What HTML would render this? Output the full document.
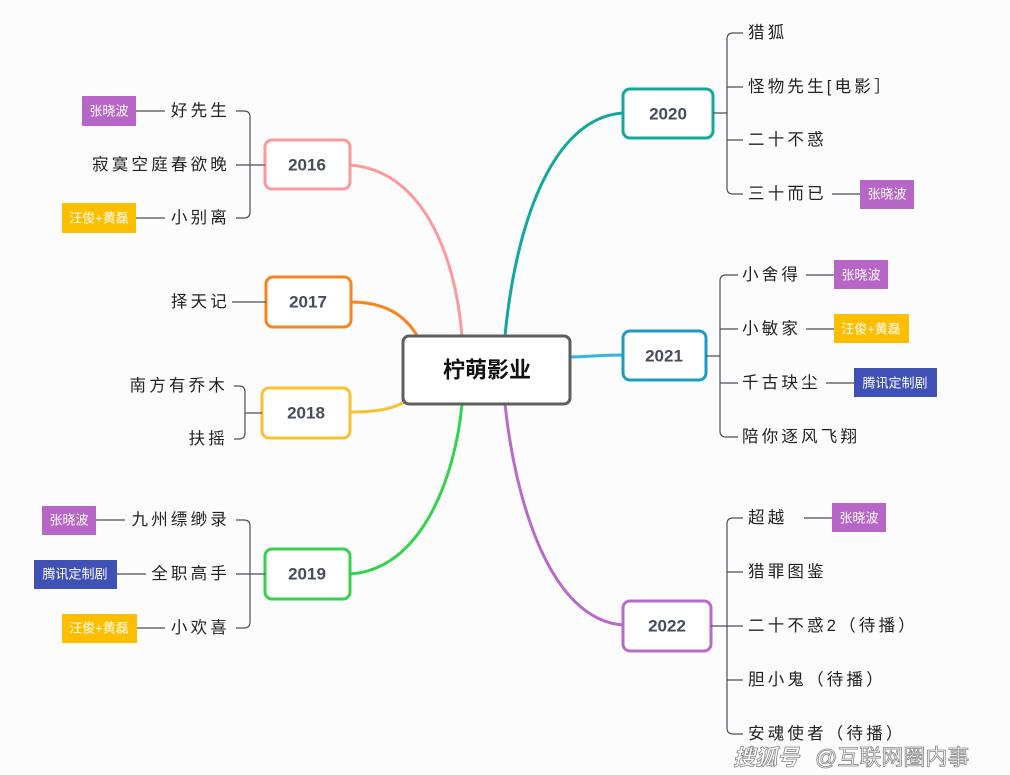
<!DOCTYPE html>
<html><head><meta charset="utf-8"><style>
body{margin:0;background:#fcfcfd;}
svg{display:block;}
text{font-family:"Liberation Sans","Noto Sans CJK SC",sans-serif;}
.t{font-size:16.5px;fill:#222;letter-spacing:3.2px;dominant-baseline:central;}
.y{font-size:17px;font-weight:bold;fill:#454d5a;text-anchor:middle;dominant-baseline:central;}
.g{font-size:13px;fill:#fff;text-anchor:middle;dominant-baseline:central;}
.l{stroke:#4a4f58;stroke-width:1.2;fill:none;}
</style></head><body>
<svg width="1010" height="775" viewBox="0 0 1010 775">
<g fill="none" stroke-width="3">
<path d="M350,165 C420,170 455,250 462,336" stroke="#fb9a9a"/>
<path d="M351,302 C385,302 405,315 418,337" stroke="#f7841c"/>
<path d="M350,412 C380,412 395,408 406,401" stroke="#fbc02d"/>
<path d="M350,574 C420,570 455,480 462,404" stroke="#34d34c"/>
<path d="M623,113 C550,118 515,230 505,336" stroke="#13a89e"/>
<path d="M623,355 C600,355 585,357 570,357" stroke="#33b6dc"/>
<path d="M623,625 C550,620 515,500 505,404" stroke="#b86ac8"/>
</g>
<rect x="403" y="336" width="167" height="68" rx="6" fill="#fff" stroke="#5f5f5f" stroke-width="3"/>
<text x="487" y="370" style="font-size:22px;font-weight:bold;fill:#111;text-anchor:middle;dominant-baseline:central">柠萌影业</text>
<g fill="#fff" stroke-width="3">
<rect x="265" y="140" width="85" height="49" rx="7" stroke="#fb9a9a"/>
<rect x="266" y="277" width="85" height="50" rx="7" stroke="#f7841c"/>
<rect x="262" y="388" width="88" height="50" rx="7" stroke="#fbc02d"/>
<rect x="265" y="549" width="85" height="50" rx="7" stroke="#34d34c"/>
<rect x="623" y="89" width="90" height="49" rx="7" stroke="#13a89e"/>
<rect x="623" y="331" width="83" height="49" rx="7" stroke="#1a9bc0"/>
<rect x="623" y="601" width="88" height="50" rx="7" stroke="#b86ac8"/>
</g>
<text class="y" x="307" y="165">2016</text>
<text class="y" x="308" y="302">2017</text>
<text class="y" x="306" y="413">2018</text>
<text class="y" x="307" y="574">2019</text>
<text class="y" x="668" y="114">2020</text>
<text class="y" x="664" y="356">2021</text>
<text class="y" x="667" y="626">2022</text>
<g class="l">
<path d="M265,165 H250 M236,111 H244 Q250,111 250,117 V212 Q250,218 244,218 H236 M236,165 H250"/>
<path d="M232,302 H266"/>
<path d="M262,413 H245 M234,386 H239 Q245,386 245,392 V433 Q245,439 239,439 H234"/>
<path d="M265,574 H250 M236,520 H244 Q250,520 250,526 V622 Q250,628 244,628 H236 M236,574 H250"/>
<path d="M713,113 H727 M743,33 H733 Q727,33 727,39 V188 Q727,194 733,194 H743 M727,87 H743 M727,140 H743"/>
<path d="M706,356 H720 M738,275 H726 Q720,275 720,281 V431 Q720,437 726,437 H738 M720,329 H738 M720,383 H738"/>
<path d="M711,626 H727 M743,518 H733 Q727,518 727,524 V728 Q727,734 733,734 H743 M727,572 H743 M727,626 H743 M727,680 H743"/>
<path d="M136,111 H165 M136,218 H165 M96,520 H125 M117,574 H146 M137,628 H165"/>
<path d="M832,194 H860 M806,275 H834 M806,329 H834 M826,383 H854 M804,518 H832"/>
</g>
<g class="t">
<text x="230" y="111" text-anchor="end">好先生</text>
<text x="230" y="165" text-anchor="end">寂寞空庭春欲晚</text>
<text x="230" y="218" text-anchor="end">小别离</text>
<text x="230" y="302" text-anchor="end">择天记</text>
<text x="228" y="386" text-anchor="end">南方有乔木</text>
<text x="228" y="439" text-anchor="end">扶摇</text>
<text x="230" y="520" text-anchor="end">九州缥缈录</text>
<text x="230" y="574" text-anchor="end">全职高手</text>
<text x="230" y="628" text-anchor="end">小欢喜</text>
<text x="748" y="33">猎狐</text>
<text x="748" y="87">怪物先生[电影］</text>
<text x="748" y="140">二十不惑</text>
<text x="748" y="194">三十而已</text>
<text x="742" y="275">小舍得</text>
<text x="742" y="329">小敏家</text>
<text x="742" y="383">千古玦尘</text>
<text x="742" y="437">陪你逐风飞翔</text>
<text x="748" y="518">超越</text>
<text x="748" y="572">猎罪图鉴</text>
<text x="748" y="626">二十不惑2（待播）</text>
<text x="748" y="680">胆小鬼（待播）</text>
<text x="748" y="734">安魂使者（待播）</text>
</g>
<rect x="82" y="96" width="54" height="30" fill="#b865c8"/><text class="g" x="109" y="111">张晓波</text>
<rect x="62" y="203" width="74" height="30" fill="#fdbe00"/><text class="g" x="99" y="218">汪俊+黄磊</text>
<rect x="42" y="506" width="54" height="29" fill="#b865c8"/><text class="g" x="69" y="520">张晓波</text>
<rect x="34" y="560" width="83" height="29" fill="#3f51b5"/><text class="g" x="75" y="574">腾讯定制剧</text>
<rect x="62" y="614" width="75" height="29" fill="#fdbe00"/><text class="g" x="99" y="628">汪俊+黄磊</text>
<rect x="860" y="180" width="54" height="29" fill="#b865c8"/><text class="g" x="887" y="194">张晓波</text>
<rect x="834" y="260" width="54" height="29" fill="#b865c8"/><text class="g" x="861" y="275">张晓波</text>
<rect x="834" y="314" width="75" height="29" fill="#fdbe00"/><text class="g" x="871" y="329">汪俊+黄磊</text>
<rect x="854" y="368" width="83" height="29" fill="#3f51b5"/><text class="g" x="895" y="383">腾讯定制剧</text>
<rect x="832" y="503" width="54" height="29" fill="#b865c8"/><text class="g" x="859" y="518">张晓波</text>
<text x="733" y="765" style="font-size:22px;font-style:italic;font-weight:bold;fill:#fff;stroke:#888;stroke-width:0.8">搜狐号</text>
<text x="815" y="765" style="font-size:22px;fill:#fff;stroke:#888;stroke-width:0.8">@互联网圈内事</text>
</svg>
</body></html>
